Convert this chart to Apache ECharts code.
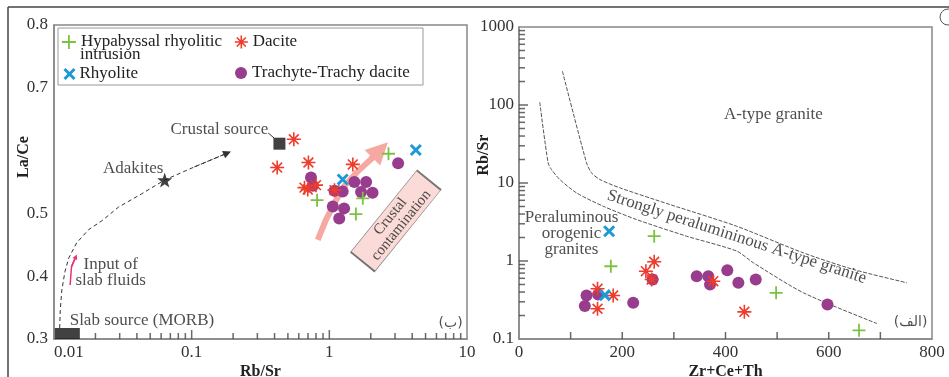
<!DOCTYPE html>
<html>
<head>
<meta charset="utf-8">
<script src="https://cdn.jsdelivr.net/npm/echarts@6.0.0/dist/echarts.min.js"></script>
<style>
  html, body { margin: 0; padding: 0; background: #fff; }
  #main { width: 949px; height: 377px; }
</style>
</head>
<body>
<div id="main"></div>
<script>
// ---- data: left panel (Rb/Sr vs La/Ce) ----
var hypLeft = [[2.69, 0.595], [0.815, 0.521], [1.75, 0.524], [1.56, 0.499]];
var daciteLeft = [[0.552, 0.618], [0.418, 0.573], [0.705, 0.581], [1.48, 0.578],
  [0.697, 0.538], [0.80, 0.545], [1.09, 0.537], [0.66, 0.541]];
var rhyLeft = [[4.25, 0.601], [1.25, 0.554]];
var trachLeft = [[0.736, 0.557], [0.76, 0.544], [1.09, 0.536], [1.25, 0.535], [1.52, 0.55],
  [1.85, 0.55], [1.70, 0.534], [2.06, 0.533], [1.06, 0.511], [1.28, 0.508], [1.18, 0.492], [3.16, 0.58]];
var crustalSource = [0.434, 0.611];
var adakite = [0.0637, 0.553];
var slabSource = [0.0125, 0.3];
var meltPath = [[0.0110, 0.3175], [0.0111, 0.346], [0.0114, 0.378], [0.0120, 0.407], [0.0128, 0.429],
  [0.0146, 0.453], [0.0178, 0.474], [0.0222, 0.488], [0.0294, 0.510], [0.0432, 0.531],
  [0.0634, 0.553], [0.1046, 0.574], [0.1815, 0.596]];
var fluidPath = [[0.0131, 0.386], [0.0134, 0.415], [0.0144, 0.431]];
var contamPath = [[0.824, 0.458], [0.946, 0.490], [1.087, 0.516], [1.28, 0.543], [1.61, 0.567],
  [2.0, 0.586], [2.34, 0.601]];
var leaderLine = [[0.36, 0.628], [0.397, 0.620]];
var leftTicksY = [0.3, 0.4, 0.5, 0.7, 0.8]; // 0.6 is not labelled in the figure
var leftMajorX = [0.1, 1];
var leftMinorX = [0.02, 0.03, 0.04, 0.05, 0.06, 0.07, 0.08, 0.09,
  0.2, 0.3, 0.4, 0.5, 0.6, 0.7, 0.8, 0.9, 2, 3, 4, 5, 6, 7, 8, 9];

// ---- data: right panel (Zr+Ce+Th vs Rb/Sr) ----
var hypRight = [[177.9, 0.857], [261.9, 2.08], [498, 0.391], [658.6, 0.129]];
var daciteRight = [[152.1, 0.44], [152.1, 0.244], [182.4, 0.361], [245.8, 0.74], [261.9, 0.977],
  [256.9, 0.579], [376.4, 0.551], [436.5, 0.223]];
var rhyRight = [[174.6, 2.41], [166.3, 0.365]];
var trachRight = [[127.5, 0.264], [130.8, 0.361], [153.3, 0.372], [221.2, 0.291], [258.8, 0.579],
  [344.2, 0.639], [366.7, 0.639], [370, 0.50], [403.5, 0.762], [424.9, 0.526], [458.6, 0.579], [597.5, 0.277]];
var lowerBoundary = [[40.2, 108.6], [56.3, 18.2], [62.8, 14.9], [79, 11.1], [111.3, 7.48], [163, 5.04],
  [227.7, 3.40], [324.7, 2.08], [421.7, 1.34], [454, 0.948], [551, 0.391], [693.3, 0.158]];
var upperBoundary = [[84.1, 271], [130.7, 18.2], [140.4, 13.5], [156.5, 11.1], [195.3, 8.67],
  [292.3, 5.30], [421.7, 2.79], [551, 1.27], [648, 0.778], [751.4, 0.526]];
var rightTicksX = [100, 200, 300, 400, 500, 600, 700];
var rightMajorY = [1, 10, 100];
var rightMinorY = [0.2, 0.3, 0.4, 0.5, 0.6, 0.7, 0.8, 0.9, 2, 3, 4, 5, 6, 7, 8, 9,
  20, 30, 40, 50, 60, 70, 80, 90, 200, 300, 400, 500, 600, 700, 800, 900];

var FONT = '"Liberation Serif", "Times New Roman", serif';
var names = ['Hypabyssal rhyolitic intrusion', 'Dacite', 'Rhyolite', 'Trachyte-Trachy dacite'];
var colors = ['#7cc242', '#ee3b2b', '#1d9ad6', '#983c8d'];
var symbols = [
  'path://M0,-6L0,6M-6,0L6,0',
  'path://M0,-6L0,6M-6,0L6,0M-4.2,-4.2L4.2,4.2M-4.2,4.2L4.2,-4.2',
  'path://M-5,-5L5,5M-5,5L5,-5',
  'circle'
];
var sizes = [13, 14, 10, 12];
var widths = [1.8, 1.6, 3, 0];

function pointSeries(i, data, grid) {
  return {
    name: names[i], type: 'scatter', xAxisIndex: grid, yAxisIndex: grid,
    data: data, symbol: symbols[i], symbolSize: sizes[i],
    z: i === 3 ? 3 : 4,
    itemStyle: {color: colors[i], borderColor: colors[i], borderWidth: widths[i], opacity: 1},
    emphasis: {disabled: true}
  };
}

function textSeries(grid, items) {
  return {
    type: 'scatter', xAxisIndex: grid, yAxisIndex: grid, silent: true, z: 6,
    symbolSize: 1, itemStyle: {color: 'transparent'},
    label: {show: true, position: 'inside', formatter: function (p) { return p.name; },
      fontFamily: FONT, fontSize: 17, color: '#222', lineHeight: 16},
    data: items
  };
}

// inward tick marks drawn as small bars sitting on the axis
function tickSeries(grid, data, size, offset) {
  return {type: 'scatter', xAxisIndex: grid, yAxisIndex: grid, silent: true, z: 7, clip: false,
    symbol: 'rect', symbolSize: size, symbolOffset: offset,
    itemStyle: {color: '#444'}, data: data};
}

// polyline body plus a separate last segment that carries the arrow head
function arrowSeries(path, color, width, dash, headSize, z) {
  var n = path.length;
  return [
    {type: 'lines', coordinateSystem: 'cartesian2d', xAxisIndex: 0, yAxisIndex: 0, polyline: true,
      silent: true, z: z, lineStyle: {color: color, width: width, type: dash, opacity: 1},
      data: [{coords: path}]},
    {type: 'lines', coordinateSystem: 'cartesian2d', xAxisIndex: 0, yAxisIndex: 0,
      silent: true, z: z, symbol: ['none', 'triangle'], symbolSize: headSize,
      itemStyle: {color: color},
      lineStyle: {color: color, width: width, type: dash, opacity: 1},
      data: [{coords: [path[n - 2], path[n - 1]]}]}
  ];
}

function logFmt(v) { return String(+(+v).toPrecision(6)); }

var axisLabel = {fontFamily: FONT, fontSize: 17, color: '#333'};
var axisName = {fontFamily: FONT, fontSize: 16, fontWeight: 'bold', color: '#222'};
var tick = {show: false};
var line = {show: true, onZero: false, lineStyle: {color: '#888', width: 1.5}};

function legend(i, left, top, w) {
  return {
    data: [names[i]], left: left, top: top, itemWidth: w, itemHeight: w, padding: 0,
    selectedMode: false,
    formatter: function (n) { return i === 0 ? 'Hypabyssal rhyolitic' : n; },
    itemStyle: {borderWidth: widths[i]},
    textStyle: {fontFamily: FONT, fontSize: 17, color: '#222', lineHeight: 20}
  };
}

var chart = echarts.init(document.getElementById('main'));
chart.setOption({
  animation: false,
  backgroundColor: '#fff',
  grid: [
    {left: 54, top: 25, width: 413, height: 314, show: true, borderColor: '#888', borderWidth: 1.5, outerBoundsMode: 'none'},
    {left: 519, top: 27, width: 413, height: 312, show: true, borderColor: '#888', borderWidth: 1.5, outerBoundsMode: 'none'}
  ],
  legend: [legend(0, 61, 32, 14), legend(1, 234, 32, 13), legend(2, 63, 64, 10), legend(3, 235, 63, 12)],
  xAxis: [
    {type: 'log', gridIndex: 0, min: 0.01, max: 10, logBase: 10,
      name: 'Rb/Sr', nameLocation: 'middle', nameGap: 25, nameMoveOverlap: false, nameTextStyle: axisName,
      axisLine: line, axisTick: tick, splitLine: {show: false},
      axisLabel: Object.assign({margin: 5, formatter: logFmt, alignMinLabel: 'left'}, axisLabel)},
    {type: 'value', gridIndex: 1, min: 0, max: 800, interval: 200,
      name: 'Zr+Ce+Th', nameLocation: 'middle', nameGap: 25, nameMoveOverlap: false, nameTextStyle: axisName,
      axisLine: line, axisTick: tick, splitLine: {show: false},
      axisLabel: Object.assign({margin: 5}, axisLabel)}
  ],
  yAxis: [
    {type: 'value', gridIndex: 0, min: 0.3, max: 0.8, interval: 0.1,
      name: 'La/Ce', nameLocation: 'middle', nameGap: 22, nameMoveOverlap: false,
      nameTextStyle: Object.assign({padding: [0, 0, 0, 50]}, axisName),
      axisLine: line, axisTick: tick, splitLine: {show: false},
      axisLabel: Object.assign({margin: 6, formatter: function (v) {
        for (var k = 0; k < leftTicksY.length; k++) {
          if (Math.abs(leftTicksY[k] - v) < 1e-6) return String(leftTicksY[k]);
        }
        return '';
      }}, axisLabel)},
    {type: 'log', gridIndex: 1, min: 0.1, max: 1000, logBase: 10,
      name: 'Rb/Sr', nameLocation: 'middle', nameGap: 27, nameMoveOverlap: false,
      nameTextStyle: Object.assign({padding: [0, 0, 0, 56]}, axisName),
      axisLine: line, axisTick: tick, splitLine: {show: false},
      axisLabel: Object.assign({margin: 5, formatter: logFmt}, axisLabel)}
  ],
  series: [].concat(
    arrowSeries(contamPath, '#f5a9a2', 6, 'solid', 22, 1),
    arrowSeries(meltPath, '#333', 1, [4, 3], 8, 2),
    arrowSeries(fluidPath, '#e8337a', 1.5, 'solid', 5, 2),
    [
    tickSeries(0, leftMinorX.map(function (v) { return [v, 0.3]; }), [1.5, 6], [0, -3]),
    tickSeries(0, leftMajorX.map(function (v) { return [v, 0.3]; }), [1.5, 9], [0, -4.5]),
    tickSeries(1, rightTicksX.map(function (v) { return [v, 0.1]; }), [1.5, 7], [0, -3.5]),
    tickSeries(1, rightMinorY.map(function (v) { return [0, v]; }), [6, 1.5], [3, 0]),
    tickSeries(1, rightMajorY.map(function (v) { return [0, v]; }), [9, 1.5], [4.5, 0]),
    {type: 'lines', coordinateSystem: 'cartesian2d', xAxisIndex: 0, yAxisIndex: 0,
      silent: true, z: 2, lineStyle: {color: '#333', width: 1, opacity: 1},
      data: [{coords: leaderLine}]},
    {type: 'scatter', xAxisIndex: 0, yAxisIndex: 0, silent: true, z: 5,
      data: [
        {value: crustalSource, symbol: 'rect', symbolSize: 12},
        {value: slabSource, symbol: 'rect', symbolSize: [25, 11], symbolOffset: [0, -5.5]},
        {value: adakite, symbol: 'path://M0,-10L2.35,-3.24L9.51,-3.09L3.8,1.24L5.88,8.09L0,4L-5.88,8.09L-3.8,1.24L-9.51,-3.09L-2.35,-3.24Z', symbolSize: 15}
      ],
      itemStyle: {color: '#111'}},
    {type: 'scatter', xAxisIndex: 0, yAxisIndex: 0, silent: true, z: 2,
      data: [{name: 'Crustal\ncontamination', value: [3.04, 0.488]}],
      symbol: 'rect', symbolSize: [105, 31], symbolRotate: 51,
      itemStyle: {color: '#f9d2cd', borderColor: '#555', borderWidth: 1},
      label: {show: true, position: 'inside', rotate: 51, formatter: function (p) { return p.name; },
        fontFamily: FONT, fontSize: 15, lineHeight: 14, color: '#222'}},
    pointSeries(3, trachLeft, 0), pointSeries(0, hypLeft, 0), pointSeries(1, daciteLeft, 0), pointSeries(2, rhyLeft, 0),
    textSeries(0, [
      {name: 'Crustal source', value: [0.36, 0.633], label: {align: 'right', verticalAlign: 'middle'}},
      {name: 'Adakites', value: [0.0623, 0.572], label: {align: 'right', verticalAlign: 'middle'}},
      {name: 'Input of\nslab fluids', value: [0.0258, 0.406], label: {align: 'center', verticalAlign: 'middle'}},
      {name: 'Slab source (MORB)', value: [0.0130, 0.329], label: {align: 'left', verticalAlign: 'middle'}},
      {name: '(ب)', value: [9.3, 0.325], label: {align: 'right', verticalAlign: 'middle', fontFamily: '"DejaVu Sans", sans-serif', fontSize: 14}}
    ]),
    // right panel
    {type: 'line', xAxisIndex: 1, yAxisIndex: 1, silent: true, showSymbol: false, smooth: 0.25, z: 1,
      data: lowerBoundary, lineStyle: {color: '#555', width: 1, type: [4, 1.5]}},
    {type: 'line', xAxisIndex: 1, yAxisIndex: 1, silent: true, showSymbol: false, smooth: 0.25, z: 1,
      data: upperBoundary, lineStyle: {color: '#555', width: 1, type: [4, 1.5]}},
    pointSeries(3, trachRight, 1), pointSeries(0, hypRight, 1), pointSeries(1, daciteRight, 1), pointSeries(2, rhyRight, 1),
    textSeries(1, [
      {name: 'A-type granite', value: [492.8, 75.3], label: {align: 'center', verticalAlign: 'middle'}},
      {name: 'Strongly peralumininous A-type granite', value: [421.8, 2.03], label: {align: 'center', verticalAlign: 'middle', rotate: -18}},
      {name: 'Peraluminous\norogenic\ngranites', value: [101.7, 2.25], label: {align: 'center', verticalAlign: 'middle'}},
      {name: '(الف)', value: [791, 0.163], label: {align: 'right', verticalAlign: 'middle', fontFamily: '"DejaVu Sans", sans-serif', fontSize: 14}}
    ])
  ]),
  graphic: [
    {type: 'line', shape: {x1: 8, y1: 7, x2: 949, y2: 7}, style: {stroke: '#444', lineWidth: 1.5}, silent: true},
    {type: 'line', shape: {x1: 8, y1: 7, x2: 8, y2: 377}, style: {stroke: '#444', lineWidth: 1.5}, silent: true},
    {type: 'circle', shape: {cx: 948, cy: 17, r: 8}, style: {stroke: '#555', fill: '#fff', lineWidth: 1}, silent: true},
    {type: 'rect', shape: {x: 58, y: 28, width: 365, height: 57}, style: {stroke: '#999', fill: 'transparent', lineWidth: 1}, silent: true, z: 0},
    {type: 'text', left: 80, top: 46, silent: true,
      style: {text: 'intrusion', font: '17px "Liberation Serif", serif', fill: '#222'}}
  ]
});
</script>
</body>
</html>
